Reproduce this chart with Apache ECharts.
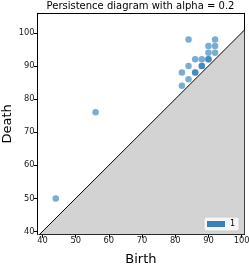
<!DOCTYPE html>
<html>
<head>
<meta charset="utf-8">
<script src="https://cdn.jsdelivr.net/npm/echarts@6/dist/echarts.min.js"></script>
<style>
html,body{margin:0;padding:0;background:#fff;}
#chart{width:249px;height:264px;}
</style>
</head>
<body>
<div id="chart"></div>
<script>
// Data (birth, death pairs; duplicates overlap and look darker)
const births = [44, 56, 84, 92, 90, 92, 90, 92, 86, 88, 90, 90, 84, 88, 88, 82, 86, 86, 84, 82];
const deaths = [50, 76, 98, 98, 96, 96, 94, 94, 92, 92, 92, 92, 90, 90, 90, 88, 88, 88, 86, 84];
const seriesName = '1';
const xTicks = [40, 50, 60, 70, 80, 90, 100];
const yTicks = [40, 50, 60, 70, 80, 90, 100];
const titleText = 'Persistence diagram with alpha = 0.2';
const xLabel = 'Birth';
const yLabel = 'Death';

const xMin = 38.5, xMax = 100.8, yMin = 39.15, yMax = 105.9;
const FONT = 'DejaVu Sans';

const points = births.map((b, i) => [b, deaths[i]]);
const diag = [[xMin, xMin], [xMax, xMax]];

const chart = echarts.init(document.getElementById('chart'), null, {renderer: 'canvas'});

const hiddenAxis = {
  axisLabel: {show: false}, axisTick: {show: false}, splitLine: {show: false},
  axisLine: {show: true, lineStyle: {color: '#000', width: 1}}
};

chart.setOption({
  animation: false,
  backgroundColor: '#fff',
  graphic: [{
    type: 'text', x: 140.5, y: 1,
    style: {text: titleText, textAlign: 'center', textVerticalAlign: 'top', fill: '#000', font: '10px "DejaVu Sans"'}
  }],
  grid: {left: 37.5, right: 4.7, top: 13.3, bottom: 29.7, containLabel: false, outerBoundsMode: 'none'},
  legend: {
    data: [{name: seriesName, icon: 'rect', itemStyle: {color: '#3a80bb', opacity: 1}}],
    left: 204, top: 217,
    padding: [3, 4, 3, 3],
    itemWidth: 18, itemHeight: 6,
    backgroundColor: 'rgba(255,255,255,0.8)',
    borderColor: '#cccccc', borderWidth: 1, borderRadius: 2,
    textStyle: {fontSize: 8, fontFamily: FONT, color: '#000'},
    selectedMode: false
  },
  xAxis: [{
    type: 'value', min: xMin, max: xMax,
    name: xLabel, nameLocation: 'middle', nameGap: 19, nameMoveOverlap: false,
    nameTextStyle: {fontSize: 13, fontFamily: FONT, color: '#000'},
    axisLine: {show: true, onZero: false, lineStyle: {color: '#000', width: 1}},
    axisTick: {show: true, length: 3.5, lineStyle: {color: '#000'}, customValues: xTicks},
    axisLabel: {fontSize: 8.3, fontFamily: FONT, color: '#222', margin: 3, customValues: xTicks},
    splitLine: {show: false}
  }, Object.assign({type: 'value', position: 'top', min: xMin, max: xMax}, hiddenAxis)],
  yAxis: [{
    type: 'value', min: yMin, max: yMax,
    name: yLabel, nameLocation: 'middle', nameGap: 23, nameMoveOverlap: false,
    nameTextStyle: {fontSize: 13, fontFamily: FONT, color: '#000'},
    axisLine: {show: true, onZero: false, lineStyle: {color: '#000', width: 1}},
    axisTick: {show: true, length: 3.5, lineStyle: {color: '#000'}, customValues: yTicks},
    axisLabel: {fontSize: 8.3, fontFamily: FONT, color: '#222', margin: 3, customValues: yTicks},
    splitLine: {show: false}
  }, Object.assign({type: 'value', position: 'right', min: yMin, max: yMax}, hiddenAxis)],
  series: [{
    type: 'line', data: diag, symbol: 'none', silent: true,
    lineStyle: {color: '#000', width: 1},
    areaStyle: {color: '#d3d3d3', opacity: 1, origin: 'start'},
    clip: true, z: 1
  }, {
    name: seriesName, type: 'scatter', data: points,
    symbol: 'circle', symbolSize: 6.5,
    itemStyle: {color: '#1f77b4', opacity: 0.6},
    z: 3
  }]
});
</script>
</body>
</html>
